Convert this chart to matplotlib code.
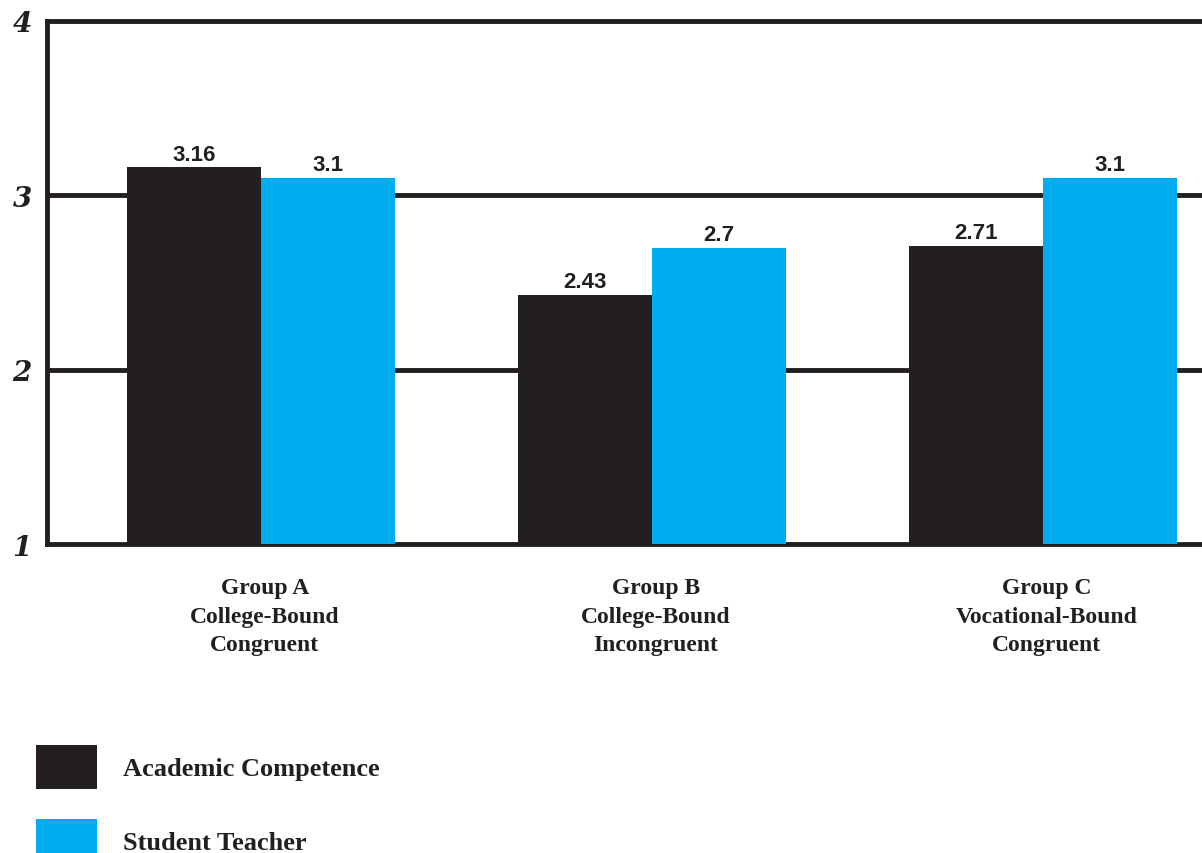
import matplotlib.pyplot as plt
import numpy as np

grupos = ["Group A\nCollege-Bound\nCongruent",
          "Group B\nCollege-Bound\nIncongruent",
          "Group C\nVocational-Bound\nCongruent"]
academic = [3.16, 2.43, 2.71]
student = [3.1, 2.7, 3.1]
etiquetas_ac = ["3.16", "2.43", "2.71"]
etiquetas_st = ["3.1", "2.7", "3.1"]
yticks = [1, 2, 3, 4]

negro = "#231f20"
cian = "#00adee"

fig = plt.figure(figsize=(12.02, 8.54), dpi=100)
# the right side of the frame runs past the edge of the picture
ax = fig.add_axes([47/1202, 309/854, 1213/1202, 523/854])

x = np.arange(len(grupos))
w = 0.343
b1 = ax.bar(x - w/2, np.array(academic) - 1, w, bottom=1, color=negro,
            label="Academic Competence", zorder=3)
b2 = ax.bar(x + w/2, np.array(student) - 1, w, bottom=1, color=cian,
            label="Student Teacher", zorder=3)

for barras, etq in [(b1, etiquetas_ac), (b2, etiquetas_st)]:
    for r, t in zip(barras, etq):
        ax.annotate(t, (r.get_x() + r.get_width()/2, r.get_y() + r.get_height()),
                    xytext=(0, 2), textcoords="offset points", ha="center",
                    va="bottom", fontsize=16, fontweight="bold",
                    family="Liberation Sans", color=negro)

ax.set_xlim(-0.547, -0.547 + 1213/391)
ax.set_ylim(1, 4)
ax.set_yticks(yticks)
ax.set_yticklabels([str(v) for v in yticks], fontsize=20, fontweight="bold",
                   fontstyle="italic", family="DejaVu Serif", color=negro)
ax.set_xticks(x + 0.01)
ax.set_xticklabels(grupos, fontsize=17, fontweight="bold",
                   family="Liberation Serif", color=negro, linespacing=1.47)
ax.tick_params(axis="y", length=0, pad=11)
ax.tick_params(axis="x", length=0, pad=24)

for yy in [2, 3]:
    ax.axhline(yy, color=negro, lw=3.5, zorder=1)
for s in ["left", "top", "bottom"]:
    ax.spines[s].set_linewidth(3.5)
    ax.spines[s].set_color(negro)
ax.spines["right"].set_visible(False)

leg = fig.legend(handles=[b1, b2], loc="upper left",
                 bbox_to_anchor=(36/1202, 1 - 746/854), frameon=False,
                 prop={"family": "Liberation Serif", "weight": "bold", "size": 19},
                 handlelength=2.3, handleheight=2.2, labelspacing=1.12,
                 handletextpad=1.0, borderpad=0, borderaxespad=0)
for t in leg.get_texts():
    t.set_color(negro)

plt.savefig("out.png", dpi=100)
